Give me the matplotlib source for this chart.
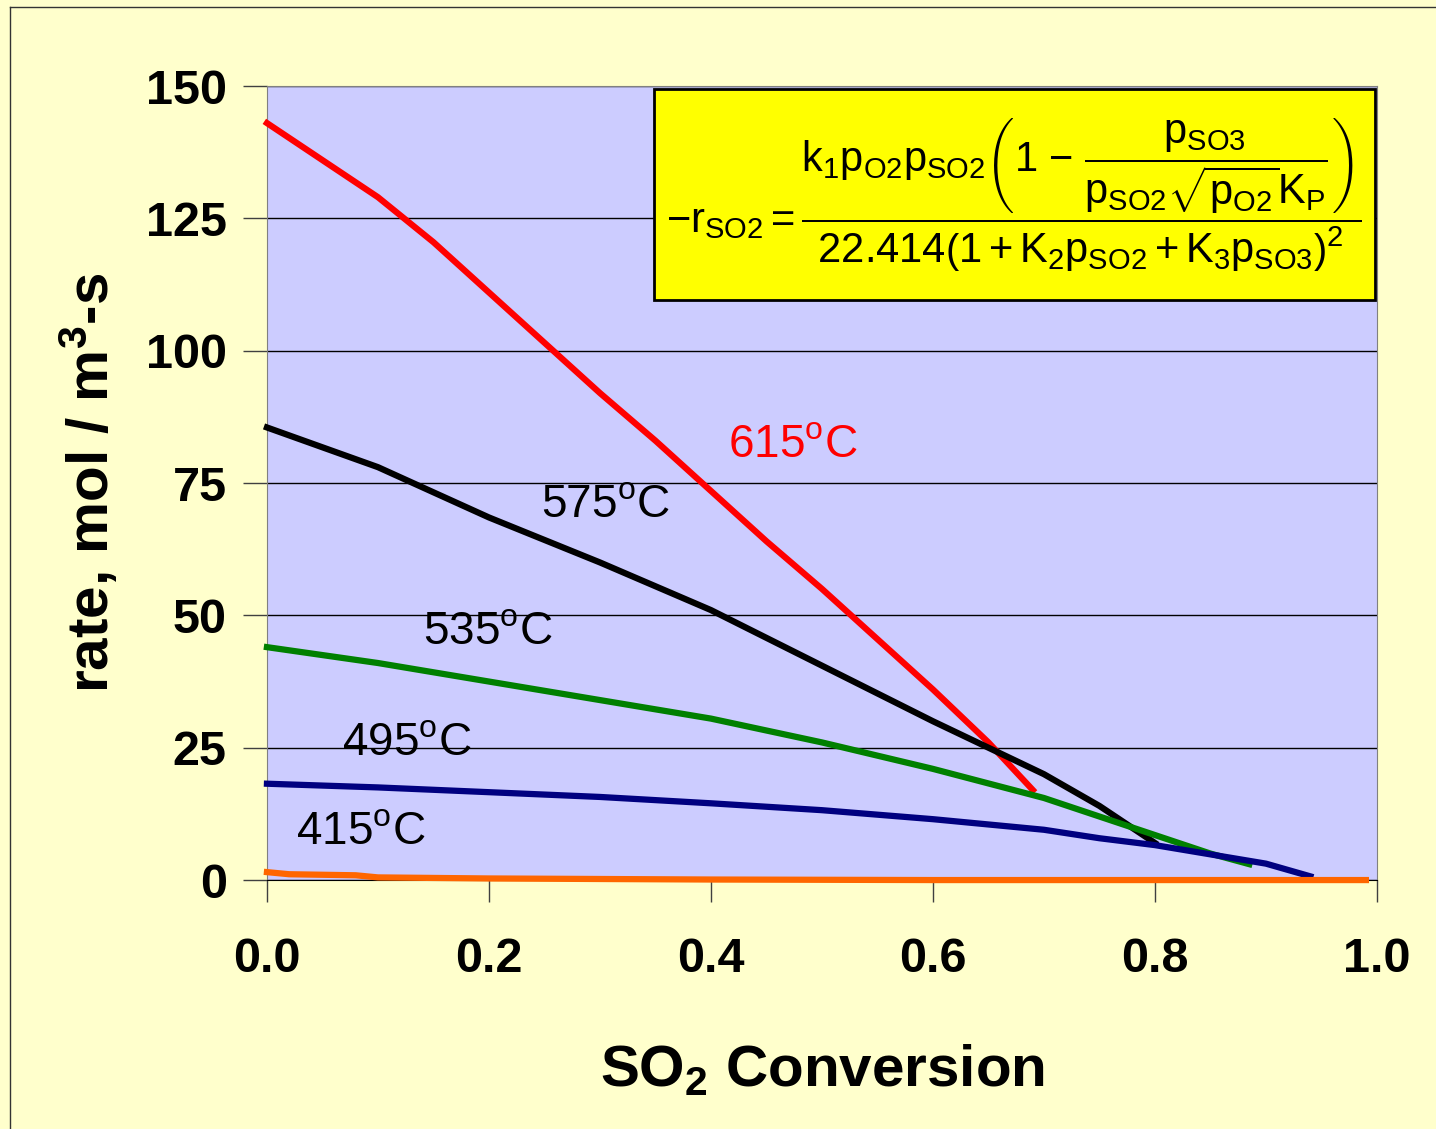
import matplotlib
matplotlib.use("Agg")
import matplotlib.pyplot as plt
from matplotlib.patches import Rectangle
from matplotlib.lines import Line2D

plt.rcParams['font.family'] = ['Liberation Sans', 'DejaVu Sans']
plt.rcParams['mathtext.fontset'] = 'custom'
plt.rcParams['mathtext.rm'] = 'Liberation Sans'
plt.rcParams['mathtext.it'] = 'Liberation Sans'
plt.rcParams['mathtext.bf'] = 'Liberation Sans:bold'

# SO2 conversion vs rate
x615 = [0, 0.05, 0.1, 0.15, 0.2, 0.25, 0.3, 0.35, 0.4, 0.45, 0.5, 0.55, 0.6, 0.65, 0.69]
r615 = [143, 136, 129, 120.5, 111, 101.5, 92, 83, 73.5, 64, 55, 45.5, 36, 26, 17]

x575 = [0, 0.1, 0.2, 0.3, 0.4, 0.5, 0.6, 0.65, 0.7, 0.75, 0.8]
r575 = [85.5, 78, 68.5, 60, 51, 40.5, 30, 25, 20, 14, 7]

x535 = [0, 0.1, 0.2, 0.3, 0.4, 0.5, 0.6, 0.7, 0.8, 0.85, 0.885]
r535 = [44, 41, 37.5, 34, 30.5, 26, 21, 15.5, 8.5, 5, 3]

x495 = [0, 0.1, 0.2, 0.3, 0.4, 0.5, 0.6, 0.7, 0.75, 0.8, 0.9, 0.94]
r495 = [18.2, 17.5, 16.6, 15.7, 14.5, 13.2, 11.5, 9.5, 7.9, 6.6, 3.1, 0.7]

x415 = [0, 0.02, 0.08, 0.1, 0.2, 0.4, 0.6, 0.99]
r415 = [1.5, 1.1, 0.9, 0.5, 0.3, 0.1, 0.0, 0.0]

series = [
    (x615, r615, '#FF0000', '615', 0.415, 82.2),
    (x575, r575, '#000000', '575', 0.247, 70.8),
    (x535, r535, '#008000', '535', 0.141, 46.9),
    (x495, r495, '#000080', '495', 0.068, 25.9),
    (x415, r415, '#FF6600', '415', 0.026, 9.1),
]

yticks = [0, 25, 50, 75, 100, 125, 150]
xticks = [0.0, 0.2, 0.4, 0.6, 0.8, 1.0]

fig = plt.figure(figsize=(14.36, 11.29), dpi=100, facecolor='#FFFFCC')
ax = fig.add_axes([0.1859, 0.2205, 0.773, 0.7033])
ax.set_facecolor('#CCCCFF')

for xs, ys, col, name, lx, ly in series:
    ax.plot(xs, ys, color=col, lw=4.5, clip_on=False, zorder=3)
    lab_col = '#FF0000' if name == '615' else 'black'
    ax.text(lx, ly, name + r'$^{\mathrm{o}}$C', color=lab_col, fontsize=33,
            ha='left', va='center', zorder=4)

ax.set_xlim(0, 1)
ax.set_ylim(0, 150)
ax.set_yticks(yticks)
ax.set_xticks(xticks)
ax.set_xticklabels(['%.1f' % v for v in xticks])
ax.yaxis.grid(True, color='black', lw=1)
ax.set_axisbelow(True)
ax.tick_params(axis='y', length=17, width=1, color='#404040', pad=12,
               labelsize=35)
ax.tick_params(axis='x', length=16, width=1, color='#404040', pad=25,
               labelsize=35)
for lbl in ax.get_xticklabels() + ax.get_yticklabels():
    lbl.set_fontweight('bold')
for s in ['left', 'right', 'top']:
    ax.spines[s].set_color('#808080')
ax.spines['bottom'].set_color('black')

ax.set_xlabel(r'SO$_{\mathbf{2}}$ Conversion', fontsize=42, fontweight='bold',
              labelpad=44)
ax.set_ylabel(r'rate, mol / m$^{\mathbf{3}}$-s', fontsize=42, fontweight='bold',
              labelpad=18)

# formula box
ax.add_patch(Rectangle((0.349, 0.730), 0.649, 0.266, transform=ax.transAxes,
                       facecolor='#FFFF00', edgecolor='black', lw=2, zorder=5))
formula = (r'$-r_{SO2}=\dfrac{k_1 p_{O2} p_{SO2} \left(1\ \mathrm{-}\ '
           r'\dfrac{p_{SO3}}{p_{SO2}\sqrt{p_{O2}}K_P}\right)}'
           r'{22.414\left(1+K_2 p_{SO2}+K_3p_{SO3}\right)^2}$')
ax.text(0.673, 0.863, formula, transform=ax.transAxes, fontsize=30,
        ha='center', va='center', zorder=6)

# outer border of the figure
fig.add_artist(Line2D([10 / 1436, 10 / 1436], [0, 1 - 7 / 1129],
                      transform=fig.transFigure, color='#333333', lw=1))
fig.add_artist(Line2D([10 / 1436, 1], [1 - 7 / 1129, 1 - 7 / 1129],
                      transform=fig.transFigure, color='#333333', lw=1))

fig.savefig('out.png', dpi=100, facecolor=fig.get_facecolor())
